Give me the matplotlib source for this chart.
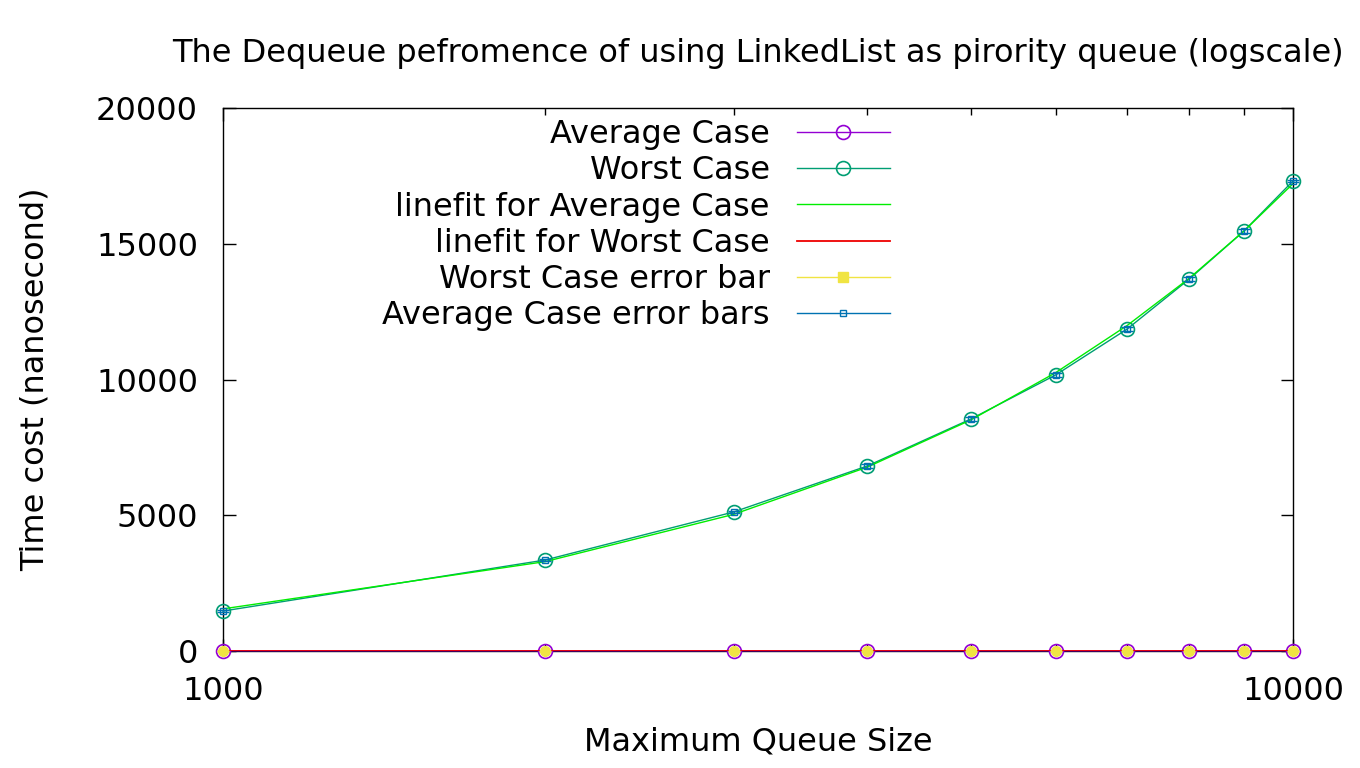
#!/usr/bin/env python3

import numpy as np
import matplotlib
matplotlib.use("Agg")
import matplotlib.pyplot as plt
from matplotlib.lines import Line2D
from matplotlib.ticker import LogLocator, FixedLocator, NullFormatter, FuncFormatter

# queue sizes
sizes = [1000, 2000, 3000, 4000, 5000, 6000, 7000, 8000, 9000, 10000]

# near-zero series (plotted as "Average Case" in the original)
avg_cost = [12, 10, 11, 9, 12, 10, 11, 12, 10, 11]
avg_err = [3, 3, 3, 3, 3, 3, 3, 3, 3, 3]

# growing series (plotted as "Worst Case")
worst_cost = [1473, 3352, 5120, 6814, 8545, 10166, 11860, 13700, 15470, 17311]
worst_err = [40, 45, 50, 60, 60, 70, 80, 70, 60, 50]

title = "The Dequeue pefromence of using LinkedList as pirority queue (logscale)"

plt.rcParams["font.family"] = ["DejaVu Sans"]
FS = 23

fig = plt.figure(figsize=(13.6, 7.68), dpi=100)
ax = fig.add_axes([0.164, 0.1523, 0.7867, 0.7071])

x = np.array(sizes, dtype=float)

# linear fits, evaluated at the measured sizes
fit_curve = np.polyval(np.polyfit(x, worst_cost, 1), x)
fit_flat = np.polyval(np.polyfit(x, avg_cost, 1), x)

ax.plot(x, avg_cost, color="#9400d3", lw=1, marker="o", ms=10,
        mfc="none", mec="#9400d3", mew=1.2, clip_on=False, zorder=3)
ax.plot(x, worst_cost, color="#009e73", lw=1, marker="o", ms=10,
        mfc="none", mec="#009e73", mew=1.2, clip_on=False, zorder=3)
ax.plot(x, fit_curve, color="#00ee00", lw=1, zorder=3)
ax.plot(x, fit_flat, color="#ee0000", lw=1.3, zorder=3)
ax.errorbar(x, avg_cost, yerr=avg_err, color="#f0e442", ls="none", elinewidth=1,
            marker="o", ms=7, mfc="#f0e442", mec="#f0e442", capsize=4,
            clip_on=False, zorder=4)
ax.errorbar(x, worst_cost, yerr=worst_err, color="#0072b2", ls="none", elinewidth=1,
            marker="s", ms=4, mfc="none", mec="#0072b2", capsize=4,
            clip_on=False, zorder=4)

ax.set_xscale("log")
ax.set_xlim(1000, 10000)
ax.set_ylim(0, 20000)
ax.set_yticks([0, 5000, 10000, 15000, 20000])
ax.xaxis.set_major_locator(FixedLocator([1000, 10000]))
ax.xaxis.set_minor_locator(LogLocator(base=10, subs=np.arange(2, 10)))
ax.xaxis.set_minor_formatter(NullFormatter())
ax.xaxis.set_major_formatter(FuncFormatter(lambda v, p: "%d" % v))

ax.tick_params(which="both", direction="in", top=True, right=True,
               labelsize=FS, width=1)
ax.tick_params(which="major", length=9)
ax.tick_params(which="minor", length=5)
ax.tick_params(axis="x", pad=18)
ax.tick_params(axis="y", pad=18)
for s in ax.spines.values():
    s.set_linewidth(1)

ax.set_title(title, fontsize=FS, pad=33)
ax.set_xlabel("Maximum Queue Size", fontsize=FS, labelpad=14)
ax.set_ylabel("Time cost (nanosecond)", fontsize=FS, labelpad=33)

handles = [
    Line2D([], [], color="#9400d3", lw=1, marker="o", ms=10, mfc="none", mew=1.2),
    Line2D([], [], color="#009e73", lw=1, marker="o", ms=10, mfc="none", mew=1.2),
    Line2D([], [], color="#00ee00", lw=1),
    Line2D([], [], color="#ee0000", lw=1.3),
    Line2D([], [], color="#f0e442", lw=1, marker="s", ms=7, mfc="#f0e442"),
    Line2D([], [], color="#0072b2", lw=1, marker="s", ms=4, mfc="none"),
]
labels = ["Average Case", "Worst Case", "linefit for Average Case",
          "linefit for Worst Case", "Worst Case error bar", "Average Case error bars"]

ax.legend(handles, labels, loc="upper right", bbox_to_anchor=(0.623, 0.979),
          frameon=False, markerfirst=False, fontsize=FS, handlelength=2.9,
          handletextpad=0.85, labelspacing=0.16, borderpad=0, borderaxespad=0)

fig.savefig("out.png", dpi=100)
